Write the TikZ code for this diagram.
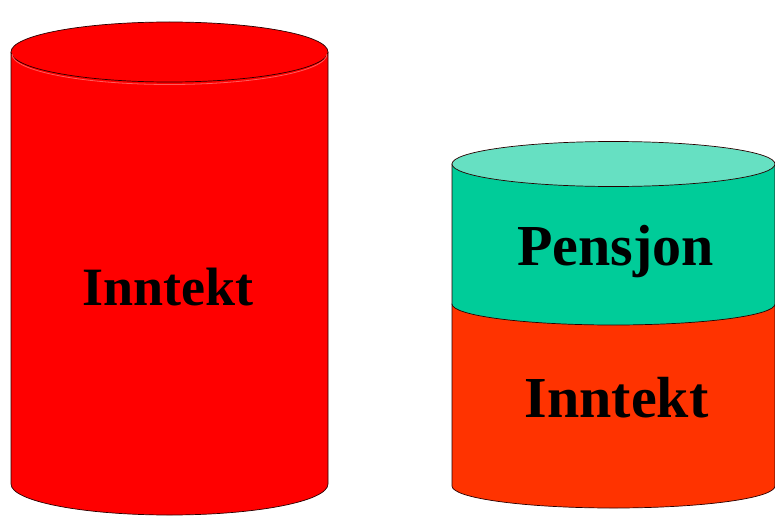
\documentclass[tikz,border=0pt]{standalone}
\usepackage{fontspec}
\setmainfont{Liberation Serif}
\definecolor{canred}{RGB}{255,0,0}
\definecolor{cangreen}{RGB}{0,204,153}
\definecolor{cangreentop}{RGB}{102,224,194}
\definecolor{canorange}{RGB}{255,51,0}
\tikzset{
  canline/.style={draw={rgb,255:red,40;green,0;blue,0},line width=0.7},
  canlabel/.style={anchor=base,inner sep=0pt,font=\bfseries\fontsize{#1}{#1}\selectfont}
}
\begin{document}
\begin{tikzpicture}[x=1pt,y=1pt,yscale=-1,xscale=1]
	\useasboundingbox (0,0) rectangle (775,516);

	%Shape: Can (left)
	\fill [canred] (11,52) -- (11,484) arc [start angle=180, end angle=0, x radius=158.5, y radius=31] -- (328,52) -- cycle ;
	\draw [canline] (11,52) -- (11,484) arc [start angle=180, end angle=0, x radius=158.5, y radius=31] -- (328,52) ;
	% top of left can
	\draw [canline, fill=canred] (169.5,52) ellipse [x radius=158.5, y radius=30] ;
	\draw [color={rgb,255:red,255;green,90;blue,90}, line width=0.8] (12,54) arc [start angle=180, end angle=0, x radius=157.5, y radius=30.5] ;

	%Shape: Can (right, lower part)
	\draw [canline, fill=canorange] (452,304) -- (452,486) arc [start angle=180, end angle=0, x radius=161.5, y radius=22] -- (775,304) -- cycle ;
	%Shape: Can (right, upper part)
	\draw [canline, fill=cangreen] (452,164) -- (452,304) arc [start angle=180, end angle=0, x radius=161.5, y radius=21] -- (775,164) -- cycle ;
	% top of right can
	\draw [canline, fill=cangreentop] (613.5,164) ellipse [x radius=161.5, y radius=22.5] ;

	%Labels
	\node [canlabel=54] (inntektleft) at (168,305) {Inntekt};
	\node [canlabel=58] (pensjon) at (615.5,265) {Pensjon};
	\node [canlabel=58] (inntektright) at (616.5,417) {Inntekt};
\end{tikzpicture}
\end{document}
